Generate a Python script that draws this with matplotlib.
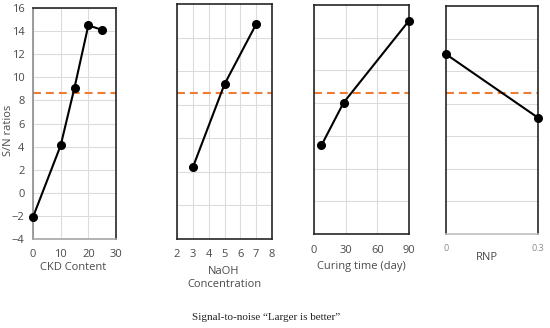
import matplotlib
matplotlib.use('Agg')
import matplotlib.pyplot as plt
import numpy as np

plt.rcParams['font.family'] = ['Open Sans', 'DejaVu Sans']

# S/N ratio data (Larger is better)
ckd_x = [0, 10, 15, 20, 25]
ckd_sn = [-2.1, 4.1, 9.1, 14.5, 14.1]
naoh_x = [3, 5, 7]
naoh_sn = [2.2, 9.4, 14.6]
cure_x = [7, 28, 90]
cure_sn = [4.1, 7.8, 14.9]
rnp_x = [0, 0.3]
rnp_sn = [12.0, 6.5]
sn_mean = 8.65

W, H = 550, 328
fig = plt.figure(figsize=(W / 100, H / 100), dpi=100)

tick_col = '#4a4a4a'
grid_col = '#dcdcdc'
dark = '#262626'
orange = '#ED7D31'
fs = 8


def px2val(y):
    # common y mapping: 16 at y=8 px, 11.55 px per unit
    return 16 - (y - 8) / 11.55


def make_ax(left, right, top, bottom):
    ax = fig.add_axes([left / W, 1 - bottom / H, (right - left) / W, (bottom - top) / H])
    ax.set_ylim(px2val(bottom), px2val(top))
    for s in ax.spines.values():
        s.set_color(dark)
        s.set_linewidth(1.2)
    ax.tick_params(length=0, colors=tick_col, labelsize=fs)
    ax.set_axisbelow(True)
    return ax


def draw(ax, x, y):
    ax.axhline(sn_mean, color=orange, lw=1.5, dashes=(3.8, 2.4), zorder=2)
    ax.plot(x, y, color='black', lw=1.5, marker='o', ms=5.5, zorder=3, clip_on=False)


# panel 1: CKD content
ax1 = make_ax(33, 116, 8, 239)
ax1.set_xlim(0, 30)
ax1.set_xticks([0, 10, 20, 30])
ax1.set_yticks(np.arange(-4, 17, 2))
ax1.grid(True, color=grid_col, lw=0.8)
ax1.spines['left'].set_color('#8c8c8c')
ax1.spines['bottom'].set_color('#a6a6a6')
ax1.tick_params(axis='x', pad=7.5)
ax1.tick_params(axis='y', pad=6)
draw(ax1, ckd_x, ckd_sn)
fig.text(73 / W, 1 - 268 / H, 'CKD Content', ha='center', va='center', fontsize=fs, color=tick_col)
fig.text(9 / W, 1 - 130 / H, 'S/N ratios', ha='center', va='center', rotation=90,
         fontsize=fs, color=tick_col)

# panel 2: NaOH
ax2 = make_ax(177, 272, 4, 239)
ax2.set_xlim(2, 8)
ax2.set_xticks(range(2, 9))
y0, y1 = ax2.get_ylim()
ax2.set_yticks(np.linspace(y0, y1, 8)[1:-1])
ax2.tick_params(axis='y', labelleft=False)
ax2.tick_params(axis='x', pad=7)
ax2.grid(True, color=grid_col, lw=0.8)
draw(ax2, naoh_x, naoh_sn)
fig.text(224 / W, 1 - 278 / H, 'NaOH\nConcentration', ha='center', va='center',
         fontsize=fs, color=tick_col, linespacing=1.35)

# panel 3: curing time
ax3 = make_ax(314, 409, 5, 234)
ax3.set_xlim(0, 90)
ax3.set_xticks([0, 30, 60, 90])
y0, y1 = ax3.get_ylim()
ax3.set_yticks(np.linspace(y0, y1, 8)[1:-1])
ax3.tick_params(axis='y', labelleft=False)
ax3.tick_params(axis='x', pad=8)
ax3.grid(True, color=grid_col, lw=0.8)
draw(ax3, cure_x, cure_sn)
fig.text(361 / W, 1 - 267 / H, 'Curing time (day)', ha='center', va='center',
         fontsize=fs, color=tick_col)

# panel 4: RNP
ax4 = make_ax(446, 538, 6, 234)
ax4.set_xlim(0, 0.3)
ax4.set_xticks([0, 0.3])
ax4.set_xticklabels(['0', '0.3'])
y0, y1 = ax4.get_ylim()
ax4.set_yticks(np.linspace(y0, y1, 8)[1:-1])
ax4.tick_params(axis='y', labelleft=False)
ax4.tick_params(axis='x', pad=7, labelsize=6.5, colors='#8c8c8c')
ax4.grid(True, axis='y', color=grid_col, lw=0.8)
ax4.spines['bottom'].set_color('#bfbfbf')
draw(ax4, rnp_x, rnp_sn)
fig.text(487 / W, 1 - 257 / H, 'RNP', ha='center', va='center', fontsize=fs, color=tick_col)

fig.text(266 / W, 1 - 317 / H, 'Signal-to-noise \u201cLarger is better\u201d', ha='center', va='center',
         fontsize=8, color='#222222', family=['Liberation Serif', 'DejaVu Serif'])

fig.savefig('out.png', dpi=100)
